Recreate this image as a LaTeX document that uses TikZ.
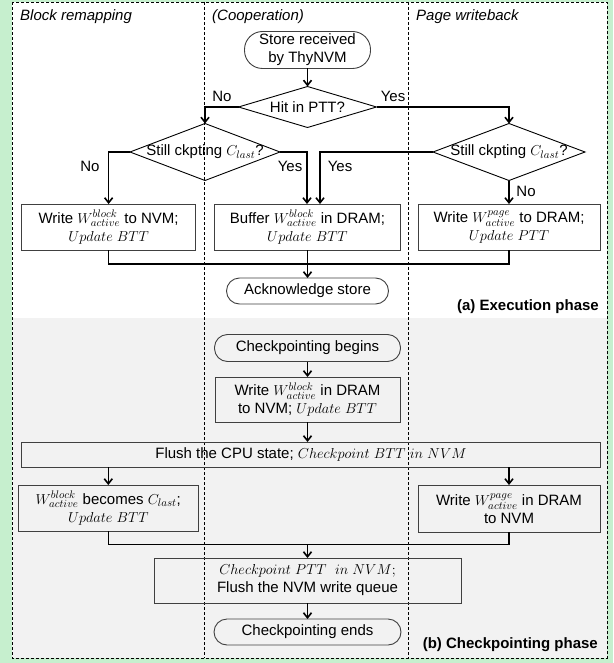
\documentclass[tikz,border=0pt]{standalone}
\usepackage{fontspec}
\setmainfont{Liberation Sans}
\usetikzlibrary{shapes.geometric,arrows.meta}
\definecolor{bggreen}{RGB}{198,239,206}
\definecolor{bggray}{RGB}{242,242,242}
\definecolor{boxline}{RGB}{64,64,64}
\newcommand\fsz{\fontsize{15}{18}\selectfont}
\begin{document}
\begin{tikzpicture}[x=1pt,y=-1pt,
  every node/.style={font=\fsz},
  box/.style={draw=boxline,line width=0.9pt,inner sep=0pt,outer sep=0pt,align=center},
  term/.style={box,rounded corners=13pt},
  dia/.style={diamond,draw=black,line width=0.9pt,inner sep=0pt,outer sep=0pt},
  conn/.style={line width=1.6pt,-{Straight Barb[length=5pt,width=8pt]}},
  link/.style={line width=1.6pt},
  lane/.style={dash pattern=on 3pt off 2pt,line width=0.8pt},
  lab/.style={inner sep=0pt},
  lanetitle/.style={anchor=west,inner sep=0pt,font=\fsz\itshape},
  phase/.style={anchor=east,inner sep=0pt,font=\fsz\bfseries}
]
% background
\fill[bggreen] (0,0) rectangle (613,663);
\fill[white] (12,2) rectangle (607,318);
\fill[bggray] (12,318) rectangle (607,658);
\draw[lane] (12,2) rectangle (607,658);
\draw[lane] (204.5,2) -- (204.5,658);
\draw[lane] (408,2) -- (408,658);
\useasboundingbox (0,0) rectangle (613,663);

% lane titles
\node[lanetitle] (t1) at (20,17) {Block remapping};
\node[lanetitle] (t2) at (212,17) {(Cooperation)};
\node[lanetitle] (t3) at (416,17) {Page writeback};

% execution phase
\node[box,rounded corners=18pt,minimum width=126pt,minimum height=37pt] (store) at (307.5,50) {Store received\\by ThyNVM};
\node[dia,minimum width=138pt,minimum height=41pt,label=center:{Hit in PTT?}] (hit) at (307.5,107) {};
\node[dia,minimum width=150pt,minimum height=57pt,label=center:{Still ckpting $C_{last}$?}] (dl) at (205,152) {};
\node[dia,minimum width=152pt,minimum height=57pt,label=center:{Still ckpting $C_{last}$?}] (dr) at (509,152) {};

\node[box,minimum width=174pt,minimum height=46pt] (b1) at (108.6,227) {Write $W^{block}_{active}$ to NVM;\\$Update\ BTT$};
\node[box,minimum width=186pt,minimum height=46pt] (b2) at (307.5,227) {Buffer $W^{block}_{active}$ in DRAM;\\$Update\ BTT$};
\node[box,minimum width=182pt,minimum height=46pt] (b3) at (509,227) {Write $W^{page}_{active}$ to DRAM;\\$Update\ PTT$};

\node[term,minimum width=162pt,minimum height=26pt] (ack) at (307.5,291) {Acknowledge store};
\node[phase] (pa) at (599,307) {(a) Execution phase};

\coordinate (b2a) at (307,204);
\coordinate (b2b) at (320,204);
\coordinate (j1) at (307.5,264);

\draw[conn] (store.south) -- (hit.north);
\draw[conn] (hit.west) -| (dl.north);
\draw[conn] (hit.east) -| (dr.north);
\draw[conn] (dl.west) -| (b1.north);
\draw[conn] (dl.east) -| (b2a);
\draw[conn] (dr.west) -| (b2b);
\draw[conn] (dr.south) -- (b3.north);
\draw[link] (b1.south) |- (j1) -| (b3.south);
\draw[conn] (b2.south) -- (ack.north);

\node[lab] (lno1) at (222,96) {No};
\node[lab] (lyes1) at (393,96) {Yes};
\node[lab] (lno2) at (90,166) {No};
\node[lab] (lyes2) at (290,166) {Yes};
\node[lab] (lyes3) at (340,166) {Yes};
\node[lab] (lno3) at (526,191) {No};

% checkpointing phase
\node[term,minimum width=186pt,minimum height=27pt] (cpb) at (307.5,348) {Checkpointing begins};
\node[box,minimum width=185pt,minimum height=45pt] (wb) at (307.5,399.5) {Write $W^{block}_{active}$ in DRAM\\to NVM; $Update\ BTT$};
\node[box,minimum width=578.5pt,minimum height=25pt] (flush) at (311,454.5) {Flush the CPU state; $Checkpoint\ BTT\ in\ NVM$};
\node[box,minimum width=180pt,minimum height=46pt] (bl2) at (108.3,508) {$W^{block}_{active}$ becomes $C_{last}$;\\$Update\ BTT$};
\node[box,minimum width=182pt,minimum height=47pt] (br2) at (509,508.5) {Write $W^{page}_{active}$ in DRAM\\to NVM};
\node[box,minimum width=307pt,minimum height=45pt] (ptt) at (307.5,580.5) {$Checkpoint\ PTT\ \ in\ NVM;$\\Flush the NVM write queue};
\node[term,minimum width=187pt,minimum height=26pt] (cpe) at (307.5,632) {Checkpointing ends};
\node[phase] (pb) at (598,645) {(b) Checkpointing phase};

\coordinate (j2) at (307.5,544.5);
\draw[conn] (cpb.south) -- (wb.north);
\draw[conn] (wb.south) -- (wb.south |- flush.north);
\draw[conn] (flush.south -| bl2.north) -- (bl2.north);
\draw[conn] (flush.south -| br2.north) -- (br2.north);
\draw[link] (bl2.south) |- (j2) -| (br2.south);
\draw[conn] (j2) -- (ptt.north);
\draw[conn] (ptt.south) -- (cpe.north);
\end{tikzpicture}
\end{document}
